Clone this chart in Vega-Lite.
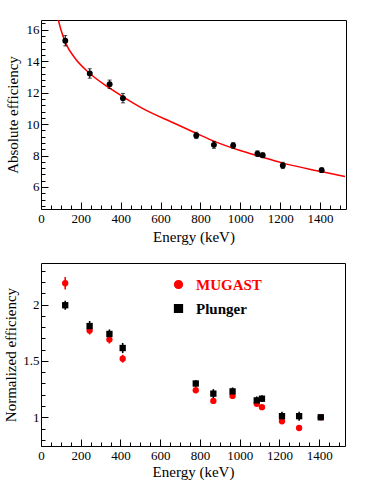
{
  "$schema": "https://vega.github.io/schema/vega-lite/v6.json",
  "padding": {"left": 3, "top": 19, "right": 5, "bottom": 5},
  "background": "white",
  "config": {
    "font": "Liberation Serif",
    "view": {"stroke": "black", "strokeWidth": 1},
    "axis": {"grid": false, "domain": false, "labelFont": "Liberation Serif", "labelFontSize": 13, "labelColor": "black", "titleFont": "Liberation Serif", "titleFontSize": 15, "titleFontWeight": "normal", "titleColor": "black", "tickColor": "black", "labelFlush": false, "labelOverlap": false, "labelBound": false},
    "legend": {"labelFont": "Liberation Serif"},
    "concat": {"spacing": 17}
  },
  "datasets": {
    "abs": [
      {"E": 121.8, "eff": 15.3, "err": 0.33},
      {"E": 244.7, "eff": 13.22, "err": 0.3},
      {"E": 344.3, "eff": 12.53, "err": 0.27},
      {"E": 411.1, "eff": 11.65, "err": 0.3},
      {"E": 778.9, "eff": 9.28, "err": 0.2},
      {"E": 867.4, "eff": 8.68, "err": 0.22},
      {"E": 964.1, "eff": 8.64, "err": 0.18},
      {"E": 1085.8, "eff": 8.12, "err": 0.18},
      {"E": 1112.1, "eff": 8.02, "err": 0.15},
      {"E": 1212.9, "eff": 7.37, "err": 0.2},
      {"E": 1408.0, "eff": 7.07, "err": 0.15}
    ],
    "fit": [
      {"E": 87, "eff": 16.62},
      {"E": 100, "eff": 16.0},
      {"E": 125, "eff": 15.12},
      {"E": 167, "eff": 14.25},
      {"E": 242, "eff": 13.25},
      {"E": 343, "eff": 12.3},
      {"E": 410, "eff": 11.75},
      {"E": 502, "eff": 11.05},
      {"E": 669, "eff": 10.05},
      {"E": 778, "eff": 9.42},
      {"E": 870, "eff": 8.9},
      {"E": 1003, "eff": 8.3},
      {"E": 1104, "eff": 7.92},
      {"E": 1204, "eff": 7.55},
      {"E": 1405, "eff": 6.98},
      {"E": 1525, "eff": 6.66}
    ],
    "norm": [
      {"E": 121.8, "val": 2.19, "err": 0.055, "series": "MUGAST"},
      {"E": 244.7, "val": 1.77, "err": 0.035, "series": "MUGAST"},
      {"E": 344.3, "val": 1.69, "err": 0.035, "series": "MUGAST"},
      {"E": 411.1, "val": 1.52, "err": 0.035, "series": "MUGAST"},
      {"E": 778.9, "val": 1.24, "err": 0.025, "series": "MUGAST"},
      {"E": 867.4, "val": 1.145, "err": 0.025, "series": "MUGAST"},
      {"E": 964.1, "val": 1.19, "err": 0.025, "series": "MUGAST"},
      {"E": 1085.8, "val": 1.12, "err": 0.025, "series": "MUGAST"},
      {"E": 1112.1, "val": 1.09, "err": 0.02, "series": "MUGAST"},
      {"E": 1212.9, "val": 0.965, "err": 0.025, "series": "MUGAST"},
      {"E": 1299.1, "val": 0.905, "err": 0.02, "series": "MUGAST"},
      {"E": 1408.0, "val": 1.0, "err": 0.01, "series": "MUGAST"},
      {"E": 121.8, "val": 1.995, "err": 0.04, "series": "Plunger"},
      {"E": 244.7, "val": 1.81, "err": 0.045, "series": "Plunger"},
      {"E": 344.3, "val": 1.74, "err": 0.04, "series": "Plunger"},
      {"E": 411.1, "val": 1.615, "err": 0.045, "series": "Plunger"},
      {"E": 778.9, "val": 1.3, "err": 0.03, "series": "Plunger"},
      {"E": 867.4, "val": 1.21, "err": 0.04, "series": "Plunger"},
      {"E": 964.1, "val": 1.23, "err": 0.035, "series": "Plunger"},
      {"E": 1085.8, "val": 1.15, "err": 0.035, "series": "Plunger"},
      {"E": 1112.1, "val": 1.165, "err": 0.03, "series": "Plunger"},
      {"E": 1212.9, "val": 1.01, "err": 0.04, "series": "Plunger"},
      {"E": 1299.1, "val": 1.01, "err": 0.04, "series": "Plunger"},
      {"E": 1408.0, "val": 1.0, "err": 0.0, "series": "Plunger"}
    ]
  },
  "vconcat": [
    {
      "width": 305,
      "height": 189,
      "resolve": {"axis": {"x": "independent", "y": "independent"}},
      "layer": [
        {
          "data": {"name": "fit"},
          "mark": {"type": "line", "color": "red", "strokeWidth": 1.5, "clip": true, "interpolate": "monotone"},
          "encoding": {
            "x": {"field": "E", "type": "quantitative", "title": "Energy (keV)",
              "scale": {"domain": [0, 1530], "nice": false, "zero": false},
              "axis": {"orient": "bottom", "values": [0,200,400,600,800,1000,1200,1400], "format": "d",
                "labelFont": "Liberation Serif", "titleFont": "Liberation Serif",
                "tickSize": -7, "labelPadding": 10, "titlePadding": 4}},
            "y": {"field": "eff", "type": "quantitative", "title": "Absolute efficiency",
              "scale": {"domain": [4.6, 16.62], "nice": false, "zero": false},
              "axis": {"orient": "left", "values": [6,8,10,12,14,16], "format": "d",
                "labelFont": "Liberation Serif", "titleFont": "Liberation Serif",
                "tickSize": -7, "labelPadding": 9, "titlePadding": 6}}
          }
        },
        {
          "data": {"name": "abs"},
          "mark": {"type": "errorbar", "color": "black", "thickness": 1, "ticks": {"size": 4, "thickness": 1}},
          "encoding": {
            "x": {"field": "E", "type": "quantitative",
              "axis": {"orient": "bottom", "values": [50,100,150,250,300,350,450,500,550,650,700,750,850,900,950,1050,1100,1150,1250,1300,1350,1450,1500],
                "labels": false, "title": null, "tickSize": -4}},
            "y": {"field": "eff", "type": "quantitative",
              "axis": {"orient": "left", "values": [4.8,5.2,5.6,6.4,6.8,7.2,7.6,8.4,8.8,9.2,9.6,10.4,10.8,11.2,11.6,12.4,12.8,13.2,13.6,14.4,14.8,15.2,15.6,16.4],
                "labels": false, "title": null, "tickSize": -4}},
            "yError": {"field": "err"}
          }
        },
        {
          "data": {"name": "abs"},
          "mark": {"type": "point", "filled": true, "color": "black", "opacity": 1, "size": 35, "shape": "circle"},
          "encoding": {
            "x": {"field": "E", "type": "quantitative", "axis": null},
            "y": {"field": "eff", "type": "quantitative", "axis": null}
          }
        }
      ]
    },
    {
      "width": 304,
      "height": 183,
      "data": {"name": "norm"},
      "resolve": {"axis": {"x": "independent", "y": "independent"}},
      "layer": [
        {
          "mark": {"type": "errorbar", "thickness": 1.6},
          "encoding": {
            "x": {"field": "E", "type": "quantitative",
              "scale": {"domain": [0, 1530], "nice": false, "zero": false},
              "axis": {"orient": "bottom", "values": [50,100,150,250,300,350,450,500,550,650,700,750,850,900,950,1050,1100,1150,1250,1300,1350,1450,1500],
                "labels": false, "title": null, "tickSize": -4}},
            "y": {"field": "val", "type": "quantitative",
              "scale": {"domain": [0.745, 2.37], "nice": false, "zero": false},
              "axis": {"orient": "left", "values": [0.8,0.9,1.1,1.2,1.3,1.4,1.6,1.7,1.8,1.9,2.1,2.2,2.3],
                "labels": false, "title": null, "tickSize": -4}},
            "yError": {"field": "err"},
            "color": {"field": "series", "type": "nominal", "title": null, "scale": {"domain": ["MUGAST", "Plunger"], "range": ["#ff0000", "#000000"]}}
          }
        },
        {
          "mark": {"type": "point", "filled": true, "opacity": 1, "size": 40},
          "encoding": {
            "x": {"field": "E", "type": "quantitative", "title": "Energy (keV)",
              "axis": {"orient": "bottom", "values": [0,200,400,600,800,1000,1200,1400], "format": "d",
                "labelFont": "Liberation Serif", "titleFont": "Liberation Serif",
                "tickSize": -7, "labelPadding": 10, "titlePadding": 2}},
            "y": {"field": "val", "type": "quantitative", "title": "Normalized efficiency",
              "axis": {"orient": "left", "values": [1,1.5,2], "format": "~g",
                "labelFont": "Liberation Serif", "titleFont": "Liberation Serif",
                "tickSize": -7, "labelPadding": 9, "titlePadding": 4}},
            "color": {"field": "series", "type": "nominal", "title": null,
              "scale": {"domain": ["MUGAST", "Plunger"], "range": ["#ff0000", "#000000"]},
              "legend": {"orient": "none", "legendX": 130, "legendY": 257, "labelFont": "Liberation Serif", "labelFontSize": 15, "labelFontWeight": "bold", "symbolSize": 60, "labelOffset": 10, "rowPadding": 8, "padding": 0,
                "labelColor": {"expr": "datum.value === 'MUGAST' ? '#ff0000' : '#000000'"}}},
            "shape": {"field": "series", "type": "nominal", "title": null,
              "scale": {"domain": ["MUGAST", "Plunger"], "range": ["circle", "square"]}}
          }
        }
      ]
    }
  ]
}
